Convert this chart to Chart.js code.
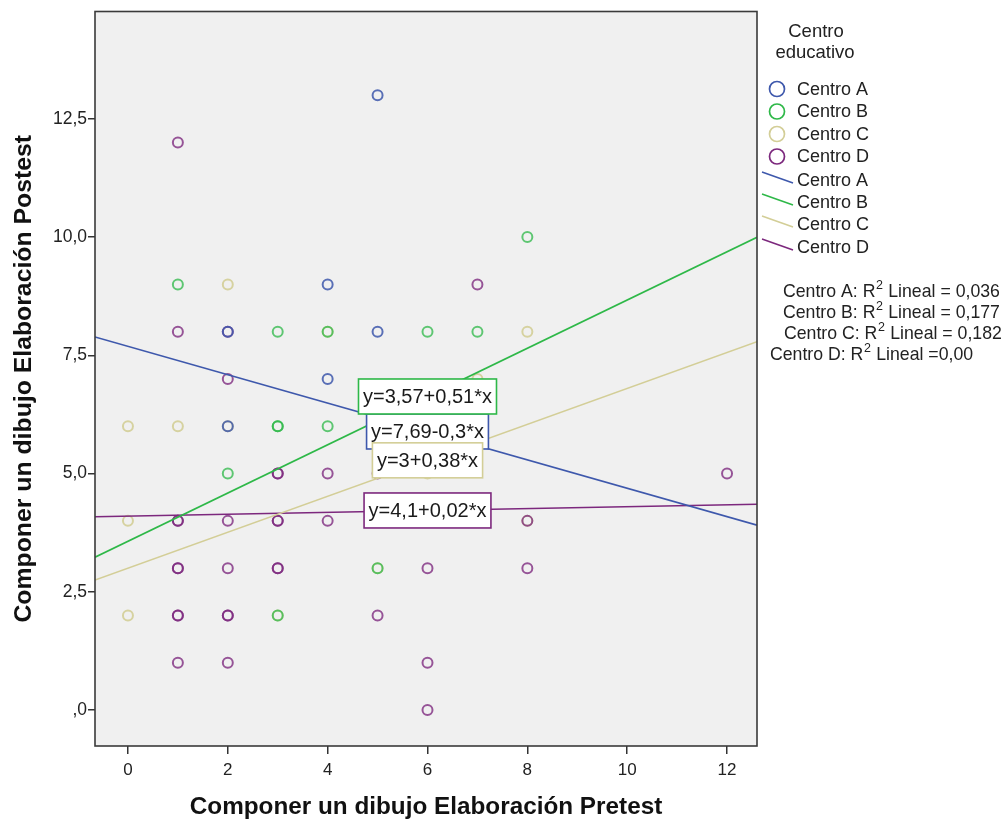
<!DOCTYPE html>
<html lang="es">
<head>
<meta charset="utf-8">
<title>Componer un dibujo: Elaboración Pretest vs Postest</title>
<script src="https://cdn.jsdelivr.net/npm/chart.js@4/dist/chart.umd.min.js"></script>
<style>
  html, body { margin: 0; padding: 0; background: #ffffff; }
  canvas { display: block; }
</style>
</head>
<body>
<canvas id="chart" width="1006" height="825"></canvas>
<script>
// Centros educativos (grupos)
const centros = ['Centro A', 'Centro B', 'Centro C', 'Centro D'];

// Pretest (x) y Postest (y) de cada centro
const centroA_x = [5, 4, 5, 4, 2, 2];
const centroA_y = [13, 9, 8, 7, 8, 6];

const centroB_x = [1, 3, 6, 7, 8, 4, 3, 3, 4, 2, 3, 5];
const centroB_y = [9, 8, 8, 8, 10, 8, 6, 6, 6, 5, 2, 3];

const centroC_x = [2, 0, 1, 2, 4, 8, 7, 0, 0, 6, 8, 3, 5];
const centroC_y = [9, 6, 6, 6, 8, 8, 7, 4, 2, 5, 4, 2, 3];

const centroD_x = [1, 1, 2, 2, 7, 3, 3, 4, 5, 12, 1, 1, 2, 3, 3, 4, 8, 1, 1, 2, 3, 3, 6, 8, 1, 1, 2, 2, 5, 1, 2, 6, 6];
const centroD_y = [12, 8, 8, 7, 9, 5, 5, 5, 5, 5, 4, 4, 4, 4, 4, 4, 4, 3, 3, 3, 3, 3, 3, 3, 2, 2, 2, 2, 2, 1, 1, 1, 0];

// Rectas de ajuste lineal: y = a + b*x
const intercepts = [7.69, 3.57, 3, 4.1];
const slopes = [-0.3, 0.51, 0.38, 0.02];
const fitLabels = ['y=7,69-0,3*x', 'y=3,57+0,51*x', 'y=3+0,38*x', 'y=4,1+0,02*x'];
const r2Labels = ['0,036', '0,177', '0,182', '0,00'];

// Ejes
const xTicks = [0, 2, 4, 6, 8, 10, 12];
const yTicks = [0, 2.5, 5, 7.5, 10, 12.5];
const yTickLabels = [',0', '2,5', '5,0', '7,5', '10,0', '12,5'];

const X_MIN = -0.66, X_MAX = 12.6;
const Y_MIN = -0.76, Y_MAX = 14.77;

const colors = ['#3E58AC', '#2EB848', '#D3CE97', '#7C287D'];
const pointColors = ['rgba(62,88,172,0.85)', 'rgba(46,184,72,0.75)', 'rgba(211,206,151,0.9)', 'rgba(124,40,125,0.78)'];
const FONT = "'Liberation Sans', Arial, sans-serif";

const xs = [centroA_x, centroB_x, centroC_x, centroD_x];
const ys = [centroA_y, centroB_y, centroC_y, centroD_y];

const lineSets = centros.map((c, i) => ({
  label: c + ' (ajuste)',
  data: [X_MIN, X_MAX].map(x => ({ x, y: intercepts[i] + slopes[i] * x })),
  showLine: true,
  borderColor: colors[i],
  borderWidth: 1.7,
  pointRadius: 0,
  fill: false
}));

// Orden de dibujo: C bajo B para que los solapes mezclen los tonos
const pointSets = centros.map((c, i) => ({
  label: c,
  data: xs[i].map((x, k) => ({ x, y: ys[i][k] })),
  showLine: false,
  pointStyle: 'circle',
  pointRadius: 5,
  pointBorderWidth: 2,
  pointBorderColor: pointColors[i],
  pointBackgroundColor: 'rgba(0,0,0,0)'
}));

// Fondo gris del área de trazado y marco
const plotFrame = {
  id: 'plotFrame',
  beforeDraw(chart) {
    const { ctx, chartArea: a } = chart;
    ctx.save();
    ctx.fillStyle = '#f0f0f0';
    ctx.fillRect(a.left, a.top, a.right - a.left, a.bottom - a.top);
    ctx.restore();
  },
  afterDraw(chart) {
    const { ctx, chartArea: a } = chart;
    ctx.save();
    ctx.strokeStyle = '#3a3a3a';
    ctx.lineWidth = 1.6;
    ctx.strokeRect(a.left, a.top, a.right - a.left, a.bottom - a.top);
    ctx.restore();
  }
};

// Etiquetas con la ecuación de cada recta, centradas sobre la recta en x = 6
const fitBoxes = {
  id: 'fitBoxes',
  afterDatasetsDraw(chart) {
    const { ctx, scales: { x, y } } = chart;
    const at = 6;
    ctx.save();
    ctx.font = '20px ' + FONT;
    ctx.textAlign = 'center';
    ctx.textBaseline = 'middle';
    fitLabels.forEach((t, i) => {
      const cx = x.getPixelForValue(at);
      const cy = y.getPixelForValue(intercepts[i] + slopes[i] * at);
      const w = ctx.measureText(t).width + 9;
      const h = 35;
      ctx.fillStyle = '#ffffff';
      ctx.fillRect(cx - w / 2, cy - h / 2, w, h);
      ctx.strokeStyle = colors[i];
      ctx.lineWidth = 1.6;
      ctx.strokeRect(cx - w / 2, cy - h / 2, w, h);
      ctx.fillStyle = '#1a1a1a';
      ctx.fillText(t, cx, cy + 1);
    });
    ctx.restore();
  }
};

// Leyenda a la derecha
const sideLegend = {
  id: 'sideLegend',
  afterDraw(chart) {
    const ctx = chart.ctx;
    ctx.save();
    ctx.fillStyle = '#222';
    ctx.textBaseline = 'middle';
    ctx.font = '18.5px ' + FONT;
    ctx.textAlign = 'center';
    ctx.fillText('Centro', 816, 32);
    ctx.fillText('educativo', 815, 53);

    ctx.font = '18px ' + FONT;
    ctx.textAlign = 'left';
    const markRows = [89, 111.5, 134, 156.5];
    centros.forEach((c, i) => {
      ctx.beginPath();
      ctx.arc(777, markRows[i], 7.5, 0, Math.PI * 2);
      ctx.strokeStyle = colors[i];
      ctx.lineWidth = 1.7;
      ctx.stroke();
      ctx.fillStyle = '#222';
      ctx.fillText(c, 797, markRows[i] + 1);
    });
    const lineRows = [180, 202, 224, 247];
    centros.forEach((c, i) => {
      ctx.beginPath();
      ctx.moveTo(762, lineRows[i] - 8);
      ctx.lineTo(793, lineRows[i] + 3);
      ctx.strokeStyle = colors[i];
      ctx.lineWidth = 1.6;
      ctx.stroke();
      ctx.fillStyle = '#222';
      ctx.fillText(c, 797, lineRows[i] + 1);
    });

    const r2Rows = [292, 313, 334, 355];
    const r2Left = [783, 783, 784, 770];
    centros.forEach((c, i) => {
      let px = r2Left[i];
      const yy = r2Rows[i];
      ctx.font = '17.7px ' + FONT;
      const head = c + ': R';
      ctx.fillText(head, px, yy);
      px += ctx.measureText(head).width;
      ctx.font = '12.5px ' + FONT;
      ctx.fillText('2', px + 0.5, yy - 6);
      px += ctx.measureText('2').width + 1;
      ctx.font = '17.7px ' + FONT;
      const tail = i === 3 ? ' Lineal =' + r2Labels[i] : ' Lineal = ' + r2Labels[i];
      ctx.fillText(tail, px, yy);
    });
    ctx.restore();
  }
};

new Chart(document.getElementById('chart'), {
  type: 'scatter',
  data: { datasets: [...lineSets, pointSets[0], pointSets[1], pointSets[3], pointSets[2]] },
  options: {
    responsive: false,
    animation: false,
    events: [],
    layout: { padding: { top: 10, right: 249, left: 0, bottom: 0 } },
    plugins: { legend: { display: false }, tooltip: { enabled: false } },
    scales: {
      x: {
        type: 'linear',
        min: X_MIN,
        max: X_MAX,
        afterBuildTicks: s => { s.ticks = xTicks.map(v => ({ value: v })); },
        afterFit: s => { s.height = 79; },
        grid: { drawOnChartArea: false, drawTicks: true, tickLength: 8, color: '#333', lineWidth: 1.5 },
        border: { display: false },
        ticks: {
          autoSkip: false, maxRotation: 0, padding: 6, color: '#222',
          font: { family: FONT, size: 17 },
          callback: v => String(v)
        },
        title: {
          display: true, text: 'Componer un dibujo Elaboración Pretest', color: '#111',
          font: { family: FONT, size: 24.3, weight: 'bold' }, padding: { top: 0, bottom: 3 }
        }
      },
      y: {
        type: 'linear',
        min: Y_MIN,
        max: Y_MAX,
        afterBuildTicks: s => { s.ticks = yTicks.map(v => ({ value: v })); },
        afterFit: s => { s.width = 95; },
        grid: { drawOnChartArea: false, drawTicks: true, tickLength: 7, color: '#333', lineWidth: 1.5 },
        border: { display: false },
        ticks: {
          autoSkip: false, padding: 1, color: '#222',
          font: { family: FONT, size: 17.5 },
          callback: v => yTickLabels[yTicks.indexOf(v)]
        },
        title: {
          display: true, text: 'Componer un dibujo Elaboración Postest', color: '#111',
          font: { family: FONT, size: 24.8, weight: 'bold' }, padding: { top: 9, bottom: 0 }
        }
      }
    }
  },
  plugins: [plotFrame, fitBoxes, sideLegend]
});
</script>
</body>
</html>
